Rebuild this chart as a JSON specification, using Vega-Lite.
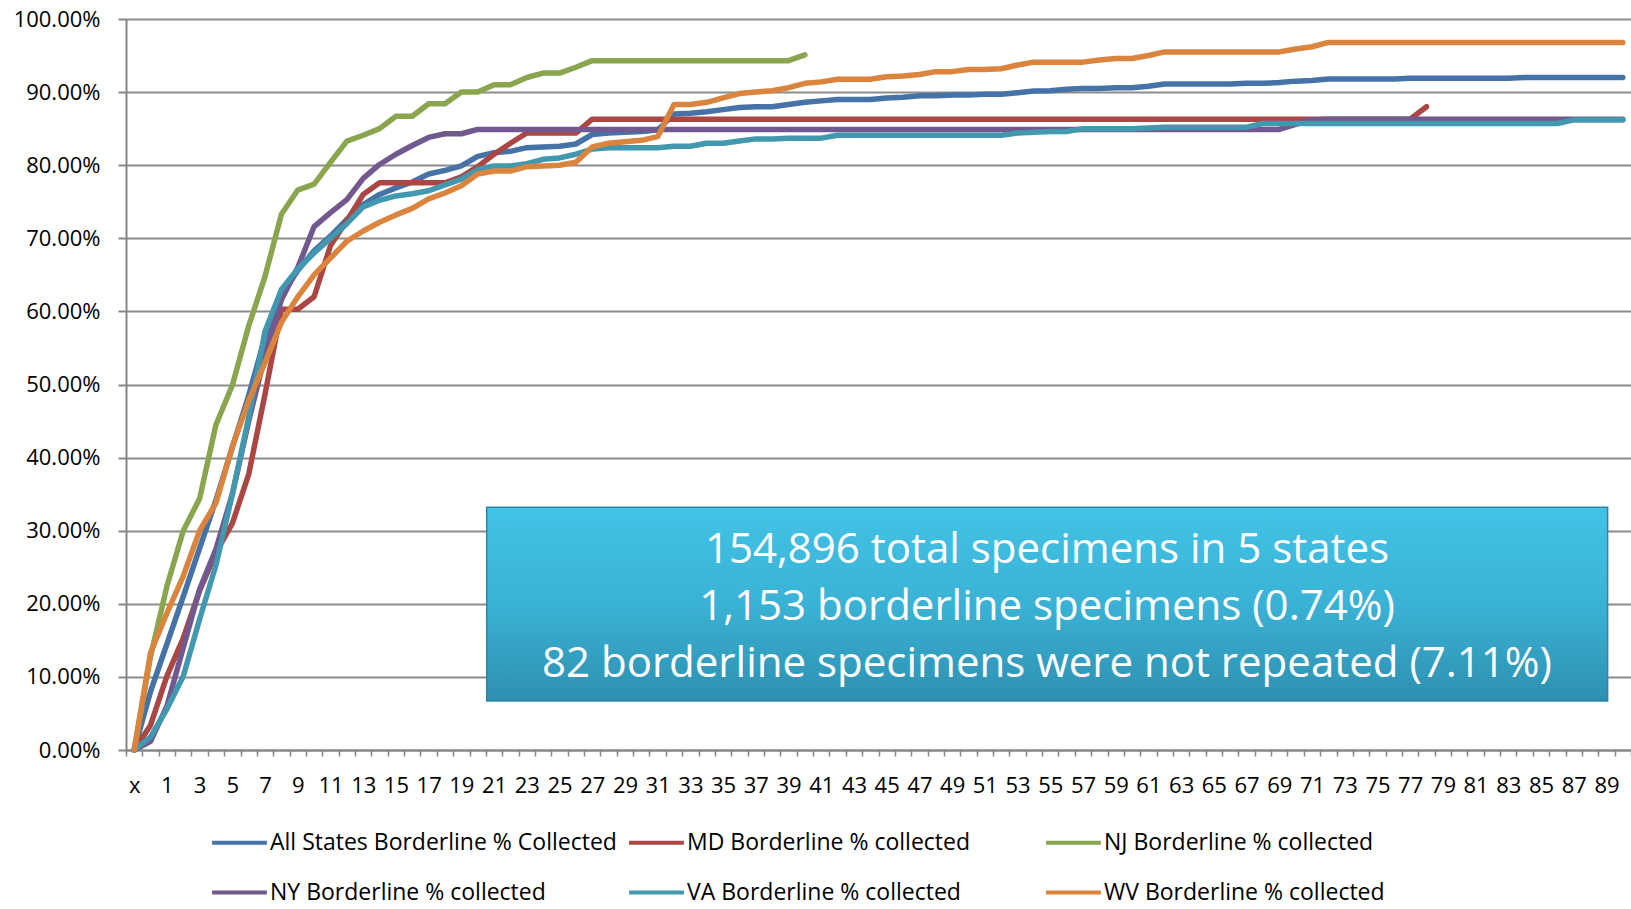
{
  "$schema": "https://vega.github.io/schema/vega-lite/v6.json",
  "width": 1505,
  "height": 731,
  "autosize": {"type": "none"},
  "padding": {"left": 126, "top": 19, "right": 0, "bottom": 159},
  "background": "#ffffff",
  "config": {
    "view": {"stroke": null},
    "font": "Open Sans",
    "axis": {
      "labelFont": "Open Sans",
      "labelFontSize": 22,
      "labelColor": "#000000",
      "domainColor": "#868686",
      "domainWidth": 2,
      "tickColor": "#868686",
      "tickWidth": 2,
      "gridColor": "#8c8c8c",
      "gridWidth": 2
    },
    "axisX": {"labelOverlap": false}
  },
  "layer": [
    {
      "data": {
        "values": [
          {"k": -1, "All": 0, "MD": 0, "NJ": 0, "NY": 0, "VA": 0, "WV": 0},
          {"k": 0, "All": 0.080, "MD": 0.034, "NJ": 0.128, "NY": 0.012, "VA": 0.018, "WV": 0.133},
          {"k": 1, "All": 0.145, "MD": 0.101, "NJ": 0.224, "NY": 0.060, "VA": 0.056, "WV": 0.187},
          {"k": 2, "All": 0.210, "MD": 0.153, "NJ": 0.300, "NY": 0.140, "VA": 0.101, "WV": 0.238},
          {"k": 3, "All": 0.276, "MD": 0.218, "NJ": 0.344, "NY": 0.220, "VA": 0.179, "WV": 0.300},
          {"k": 4, "All": 0.342, "MD": 0.270, "NJ": 0.445, "NY": 0.275, "VA": 0.253, "WV": 0.338},
          {"k": 5, "All": 0.414, "MD": 0.310, "NJ": 0.499, "NY": 0.350, "VA": 0.350, "WV": 0.415},
          {"k": 6, "All": 0.485, "MD": 0.377, "NJ": 0.580, "NY": 0.450, "VA": 0.455, "WV": 0.478},
          {"k": 7, "All": 0.565, "MD": 0.487, "NJ": 0.648, "NY": 0.540, "VA": 0.573, "WV": 0.530},
          {"k": 8, "All": 0.622, "MD": 0.603, "NJ": 0.733, "NY": 0.616, "VA": 0.630, "WV": 0.585},
          {"k": 9, "All": 0.656, "MD": 0.603, "NJ": 0.766, "NY": 0.660, "VA": 0.658, "WV": 0.620},
          {"k": 10, "All": 0.683, "MD": 0.620, "NJ": 0.774, "NY": 0.716, "VA": 0.680, "WV": 0.650},
          {"k": 11, "All": 0.703, "MD": 0.690, "NJ": 0.804, "NY": 0.735, "VA": 0.700, "WV": 0.673},
          {"k": 12, "All": 0.726, "MD": 0.724, "NJ": 0.833, "NY": 0.753, "VA": 0.720, "WV": 0.696},
          {"k": 13, "All": 0.746, "MD": 0.760, "NJ": 0.841, "NY": 0.782, "VA": 0.743, "WV": 0.710},
          {"k": 14, "All": 0.760, "MD": 0.776, "NJ": 0.850, "NY": 0.801, "VA": 0.752, "WV": 0.722},
          {"k": 15, "All": 0.769, "MD": 0.776, "NJ": 0.867, "NY": 0.815, "VA": 0.758, "WV": 0.732},
          {"k": 16, "All": 0.777, "MD": 0.776, "NJ": 0.867, "NY": 0.827, "VA": 0.761, "WV": 0.741},
          {"k": 17, "All": 0.788, "MD": 0.776, "NJ": 0.884, "NY": 0.838, "VA": 0.765, "WV": 0.754},
          {"k": 18, "All": 0.793, "MD": 0.776, "NJ": 0.884, "NY": 0.843, "VA": 0.773, "WV": 0.762},
          {"k": 19, "All": 0.799, "MD": 0.784, "NJ": 0.900, "NY": 0.843, "VA": 0.781, "WV": 0.772},
          {"k": 20, "All": 0.812, "MD": 0.798, "NJ": 0.900, "NY": 0.849, "VA": 0.794, "WV": 0.788},
          {"k": 21, "All": 0.817, "MD": 0.815, "NJ": 0.910, "NY": 0.849, "VA": 0.799, "WV": 0.792},
          {"k": 22, "All": 0.819, "MD": 0.830, "NJ": 0.910, "NY": 0.849, "VA": 0.799, "WV": 0.792},
          {"k": 23, "All": 0.824, "MD": 0.844, "NJ": 0.920, "NY": 0.849, "VA": 0.802, "WV": 0.798},
          {"k": 24, "All": 0.825, "MD": 0.844, "NJ": 0.926, "NY": 0.849, "VA": 0.808, "WV": 0.799},
          {"k": 25, "All": 0.826, "MD": 0.844, "NJ": 0.926, "NY": 0.849, "VA": 0.810, "WV": 0.800},
          {"k": 26, "All": 0.829, "MD": 0.844, "NJ": 0.934, "NY": 0.849, "VA": 0.815, "WV": 0.804},
          {"k": 27, "All": 0.842, "MD": 0.863, "NJ": 0.943, "NY": 0.849, "VA": 0.822, "WV": 0.825},
          {"k": 28, "All": 0.844, "MD": 0.863, "NJ": 0.943, "NY": 0.849, "VA": 0.824, "WV": 0.830},
          {"k": 29, "All": 0.845, "MD": 0.863, "NJ": 0.943, "NY": 0.849, "VA": 0.824, "WV": 0.832},
          {"k": 30, "All": 0.846, "MD": 0.863, "NJ": 0.943, "NY": 0.849, "VA": 0.824, "WV": 0.834},
          {"k": 31, "All": 0.848, "MD": 0.863, "NJ": 0.943, "NY": 0.849, "VA": 0.824, "WV": 0.839},
          {"k": 32, "All": 0.870, "MD": 0.863, "NJ": 0.943, "NY": 0.849, "VA": 0.826, "WV": 0.883},
          {"k": 33, "All": 0.871, "MD": 0.863, "NJ": 0.943, "NY": 0.849, "VA": 0.826, "WV": 0.883},
          {"k": 34, "All": 0.873, "MD": 0.863, "NJ": 0.943, "NY": 0.849, "VA": 0.830, "WV": 0.886},
          {"k": 35, "All": 0.876, "MD": 0.863, "NJ": 0.943, "NY": 0.849, "VA": 0.830, "WV": 0.892},
          {"k": 36, "All": 0.879, "MD": 0.863, "NJ": 0.943, "NY": 0.849, "VA": 0.833, "WV": 0.898},
          {"k": 37, "All": 0.880, "MD": 0.863, "NJ": 0.943, "NY": 0.849, "VA": 0.836, "WV": 0.900},
          {"k": 38, "All": 0.880, "MD": 0.863, "NJ": 0.943, "NY": 0.849, "VA": 0.836, "WV": 0.902},
          {"k": 39, "All": 0.883, "MD": 0.863, "NJ": 0.943, "NY": 0.849, "VA": 0.837, "WV": 0.906},
          {"k": 40, "All": 0.886, "MD": 0.863, "NJ": 0.951, "NY": 0.849, "VA": 0.837, "WV": 0.912},
          {"k": 41, "All": 0.888, "MD": 0.863, "NY": 0.849, "VA": 0.837, "WV": 0.914},
          {"k": 42, "All": 0.890, "MD": 0.863, "NY": 0.849, "VA": 0.841, "WV": 0.9175},
          {"k": 43, "All": 0.890, "MD": 0.863, "NY": 0.849, "VA": 0.841, "WV": 0.9175},
          {"k": 44, "All": 0.890, "MD": 0.863, "NY": 0.849, "VA": 0.841, "WV": 0.9175},
          {"k": 45, "All": 0.892, "MD": 0.863, "NY": 0.849, "VA": 0.841, "WV": 0.921},
          {"k": 46, "All": 0.893, "MD": 0.863, "NY": 0.849, "VA": 0.841, "WV": 0.922},
          {"k": 47, "All": 0.895, "MD": 0.863, "NY": 0.849, "VA": 0.841, "WV": 0.924},
          {"k": 48, "All": 0.895, "MD": 0.863, "NY": 0.849, "VA": 0.841, "WV": 0.928},
          {"k": 49, "All": 0.896, "MD": 0.863, "NY": 0.849, "VA": 0.841, "WV": 0.928},
          {"k": 50, "All": 0.896, "MD": 0.863, "NY": 0.849, "VA": 0.841, "WV": 0.931},
          {"k": 51, "All": 0.897, "MD": 0.863, "NY": 0.849, "VA": 0.841, "WV": 0.931},
          {"k": 52, "All": 0.897, "MD": 0.863, "NY": 0.849, "VA": 0.841, "WV": 0.932},
          {"k": 53, "All": 0.899, "MD": 0.863, "NY": 0.849, "VA": 0.844, "WV": 0.937},
          {"k": 54, "All": 0.9015, "MD": 0.863, "NY": 0.849, "VA": 0.845, "WV": 0.941},
          {"k": 55, "All": 0.902, "MD": 0.863, "NY": 0.849, "VA": 0.846, "WV": 0.941},
          {"k": 56, "All": 0.904, "MD": 0.863, "NY": 0.849, "VA": 0.846, "WV": 0.941},
          {"k": 57, "All": 0.905, "MD": 0.863, "NY": 0.849, "VA": 0.850, "WV": 0.941},
          {"k": 58, "All": 0.905, "MD": 0.863, "NY": 0.849, "VA": 0.850, "WV": 0.944},
          {"k": 59, "All": 0.906, "MD": 0.863, "NY": 0.849, "VA": 0.850, "WV": 0.946},
          {"k": 60, "All": 0.906, "MD": 0.863, "NY": 0.849, "VA": 0.850, "WV": 0.946},
          {"k": 61, "All": 0.908, "MD": 0.863, "NY": 0.849, "VA": 0.851, "WV": 0.950},
          {"k": 62, "All": 0.911, "MD": 0.863, "NY": 0.849, "VA": 0.852, "WV": 0.955},
          {"k": 63, "All": 0.911, "MD": 0.863, "NY": 0.849, "VA": 0.852, "WV": 0.955},
          {"k": 64, "All": 0.911, "MD": 0.863, "NY": 0.849, "VA": 0.852, "WV": 0.955},
          {"k": 65, "All": 0.911, "MD": 0.863, "NY": 0.849, "VA": 0.852, "WV": 0.955},
          {"k": 66, "All": 0.911, "MD": 0.863, "NY": 0.849, "VA": 0.852, "WV": 0.955},
          {"k": 67, "All": 0.912, "MD": 0.863, "NY": 0.849, "VA": 0.852, "WV": 0.955},
          {"k": 68, "All": 0.912, "MD": 0.863, "NY": 0.849, "VA": 0.857, "WV": 0.955},
          {"k": 69, "All": 0.913, "MD": 0.863, "NY": 0.849, "VA": 0.857, "WV": 0.955},
          {"k": 70, "All": 0.915, "MD": 0.863, "NY": 0.856, "VA": 0.857, "WV": 0.959},
          {"k": 71, "All": 0.916, "MD": 0.863, "NY": 0.862, "VA": 0.857, "WV": 0.962},
          {"k": 72, "All": 0.918, "MD": 0.863, "NY": 0.863, "VA": 0.857, "WV": 0.968},
          {"k": 73, "All": 0.918, "MD": 0.863, "NY": 0.863, "VA": 0.857, "WV": 0.968},
          {"k": 74, "All": 0.918, "MD": 0.863, "NY": 0.863, "VA": 0.857, "WV": 0.968},
          {"k": 75, "All": 0.918, "MD": 0.863, "NY": 0.863, "VA": 0.857, "WV": 0.968},
          {"k": 76, "All": 0.918, "MD": 0.863, "NY": 0.863, "VA": 0.857, "WV": 0.968},
          {"k": 77, "All": 0.919, "MD": 0.863, "NY": 0.863, "VA": 0.857, "WV": 0.968},
          {"k": 78, "All": 0.919, "MD": 0.880, "NY": 0.863, "VA": 0.857, "WV": 0.968},
          {"k": 79, "All": 0.919, "NY": 0.863, "VA": 0.857, "WV": 0.968},
          {"k": 80, "All": 0.919, "NY": 0.863, "VA": 0.857, "WV": 0.968},
          {"k": 81, "All": 0.919, "NY": 0.863, "VA": 0.857, "WV": 0.968},
          {"k": 82, "All": 0.919, "NY": 0.863, "VA": 0.857, "WV": 0.968},
          {"k": 83, "All": 0.919, "NY": 0.863, "VA": 0.857, "WV": 0.968},
          {"k": 84, "All": 0.920, "NY": 0.863, "VA": 0.857, "WV": 0.968},
          {"k": 85, "All": 0.920, "NY": 0.863, "VA": 0.857, "WV": 0.968},
          {"k": 86, "All": 0.920, "NY": 0.863, "VA": 0.857, "WV": 0.968},
          {"k": 87, "All": 0.920, "NY": 0.863, "VA": 0.862, "WV": 0.968},
          {"k": 88, "All": 0.920, "NY": 0.863, "VA": 0.862, "WV": 0.968},
          {"k": 89, "All": 0.920, "NY": 0.863, "VA": 0.862, "WV": 0.968},
          {"k": 90, "All": 0.920, "NY": 0.863, "VA": 0.862, "WV": 0.968}
        ]
      },
      "transform": [
        {"fold": ["All", "MD", "NJ", "NY", "VA", "WV"], "as": ["series", "pct"]},
        {"filter": "isValid(datum.pct)"}
      ],
      "mark": {"type": "line", "strokeWidth": 5.5, "strokeCap": "round", "strokeJoin": "round"},
      "encoding": {
        "x": {
          "field": "k",
          "type": "quantitative",
          "scale": {"domain": [-1.5, 90.5], "nice": false, "zero": false},
          "axis": {
            "title": null,
            "grid": false,
            "values": [-1.5, -0.5, 0.5, 1.5, 2.5, 3.5, 4.5, 5.5, 6.5, 7.5, 8.5, 9.5, 10.5, 11.5, 12.5, 13.5, 14.5, 15.5, 16.5, 17.5, 18.5, 19.5, 20.5, 21.5, 22.5, 23.5, 24.5, 25.5, 26.5, 27.5, 28.5, 29.5, 30.5, 31.5, 32.5, 33.5, 34.5, 35.5, 36.5, 37.5, 38.5, 39.5, 40.5, 41.5, 42.5, 43.5, 44.5, 45.5, 46.5, 47.5, 48.5, 49.5, 50.5, 51.5, 52.5, 53.5, 54.5, 55.5, 56.5, 57.5, 58.5, 59.5, 60.5, 61.5, 62.5, 63.5, 64.5, 65.5, 66.5, 67.5, 68.5, 69.5, 70.5, 71.5, 72.5, 73.5, 74.5, 75.5, 76.5, 77.5, 78.5, 79.5, 80.5, 81.5, 82.5, 83.5, 84.5, 85.5, 86.5, 87.5, 88.5, 89.5, 90.5],
            "labelExpr": "datum.value + 0.5 == -1 ? 'x' : (((datum.value + 0.5) % 2 != 0 && datum.value < 90) ? format(datum.value + 0.5, 'd') : '')",
            "labelOffset": 8.2,
            "tickSize": 6,
            "tickWidth": 1.5,
            "labelPadding": 19,
            "labelOverlap": false,
            "labelFlush": false,
            "labelBound": false
          }
        },
        "y": {
          "field": "pct",
          "type": "quantitative",
          "scale": {"domain": [0, 1], "nice": false},
          "axis": {
            "title": null,
            "values": [0, 0.1, 0.2, 0.3, 0.4, 0.5, 0.6, 0.7, 0.8, 0.9, 1],
            "format": ".2%",
            "grid": true,
            "tickSize": 8,
            "labelPadding": 18
          }
        },
        "color": {
          "field": "series",
          "type": "nominal",
          "scale": {
            "domain": ["All", "MD", "NJ", "NY", "VA", "WV"],
            "range": ["#4572A7", "#AA4643", "#89A54E", "#71588F", "#4198AF", "#DB843D"]
          },
          "legend": {
            "title": null,
            "orient": "none",
            "legendX": 84,
            "legendY": 794,
            "direction": "horizontal",
            "columns": 3,
            "gridAlign": "all",
            "symbolType": "stroke",
            "symbolSize": 3000,
            "symbolStrokeWidth": 4,
            "labelFont": "Open Sans",
            "labelFontSize": 23,
            "labelColor": "#000000",
            "labelLimit": 800,
            "labelOffset": 1,
            "columnPadding": 4,
            "rowPadding": 8,
            "padding": 0,
            "labelExpr": "datum.label == 'All' ? 'All States Borderline % Collected' : datum.label + ' Borderline % collected'"
          }
        }
      }
    },
    {
      "data": {"values": [{}]},
      "mark": {
        "type": "rect",
        "fill": {
          "gradient": "linear",
          "x1": 0, "y1": 0, "x2": 0, "y2": 1,
          "stops": [
            {"offset": 0, "color": "#42C3E7"},
            {"offset": 0.5, "color": "#3AB2D5"},
            {"offset": 1, "color": "#2E90B0"}
          ]
        },
        "stroke": "#2C86A4",
        "strokeWidth": 1.5
      },
      "encoding": {
        "x": {
          "datum": 20.55, "type": "quantitative",
          "scale": {"domain": [-1.5, 90.5], "nice": false, "zero": false},
          "axis": {
            "title": null,
            "grid": false,
            "values": [-1.5, -0.5, 0.5, 1.5, 2.5, 3.5, 4.5, 5.5, 6.5, 7.5, 8.5, 9.5, 10.5, 11.5, 12.5, 13.5, 14.5, 15.5, 16.5, 17.5, 18.5, 19.5, 20.5, 21.5, 22.5, 23.5, 24.5, 25.5, 26.5, 27.5, 28.5, 29.5, 30.5, 31.5, 32.5, 33.5, 34.5, 35.5, 36.5, 37.5, 38.5, 39.5, 40.5, 41.5, 42.5, 43.5, 44.5, 45.5, 46.5, 47.5, 48.5, 49.5, 50.5, 51.5, 52.5, 53.5, 54.5, 55.5, 56.5, 57.5, 58.5, 59.5, 60.5, 61.5, 62.5, 63.5, 64.5, 65.5, 66.5, 67.5, 68.5, 69.5, 70.5, 71.5, 72.5, 73.5, 74.5, 75.5, 76.5, 77.5, 78.5, 79.5, 80.5, 81.5, 82.5, 83.5, 84.5, 85.5, 86.5, 87.5, 88.5, 89.5, 90.5],
            "labelExpr": "datum.value + 0.5 == -1 ? 'x' : (((datum.value + 0.5) % 2 != 0 && datum.value < 90) ? format(datum.value + 0.5, 'd') : '')",
            "labelOffset": 8.2,
            "tickSize": 6,
            "tickWidth": 1.5,
            "labelPadding": 19,
            "labelOverlap": false,
            "labelFlush": false,
            "labelBound": false
          }
        },
        "x2": {"datum": 89.07},
        "y": {
          "datum": 0.332, "type": "quantitative",
          "scale": {"domain": [0, 1], "nice": false},
          "axis": {
            "title": null,
            "values": [0, 0.1, 0.2, 0.3, 0.4, 0.5, 0.6, 0.7, 0.8, 0.9, 1],
            "format": ".2%",
            "grid": true,
            "tickSize": 8,
            "labelPadding": 18
          }
        },
        "y2": {"datum": 0.067}
      }
    },
    {
      "data": {"values": [{"t": "154,896 total specimens in 5 states\n1,153 borderline specimens (0.74%)\n82 borderline specimens were not repeated (7.11%)"}]},
      "mark": {
        "type": "text",
        "lineBreak": "\n",
        "align": "center",
        "baseline": "middle",
        "font": "Open Sans",
        "fontSize": 42,
        "lineHeight": 57,
        "color": "#ffffff"
      },
      "encoding": {
        "text": {"field": "t"},
        "x": {
          "datum": 54.8, "type": "quantitative",
          "scale": {"domain": [-1.5, 90.5], "nice": false, "zero": false},
          "axis": {
            "title": null,
            "grid": false,
            "values": [-1.5, -0.5, 0.5, 1.5, 2.5, 3.5, 4.5, 5.5, 6.5, 7.5, 8.5, 9.5, 10.5, 11.5, 12.5, 13.5, 14.5, 15.5, 16.5, 17.5, 18.5, 19.5, 20.5, 21.5, 22.5, 23.5, 24.5, 25.5, 26.5, 27.5, 28.5, 29.5, 30.5, 31.5, 32.5, 33.5, 34.5, 35.5, 36.5, 37.5, 38.5, 39.5, 40.5, 41.5, 42.5, 43.5, 44.5, 45.5, 46.5, 47.5, 48.5, 49.5, 50.5, 51.5, 52.5, 53.5, 54.5, 55.5, 56.5, 57.5, 58.5, 59.5, 60.5, 61.5, 62.5, 63.5, 64.5, 65.5, 66.5, 67.5, 68.5, 69.5, 70.5, 71.5, 72.5, 73.5, 74.5, 75.5, 76.5, 77.5, 78.5, 79.5, 80.5, 81.5, 82.5, 83.5, 84.5, 85.5, 86.5, 87.5, 88.5, 89.5, 90.5],
            "labelExpr": "datum.value + 0.5 == -1 ? 'x' : (((datum.value + 0.5) % 2 != 0 && datum.value < 90) ? format(datum.value + 0.5, 'd') : '')",
            "labelOffset": 8.2,
            "tickSize": 6,
            "tickWidth": 1.5,
            "labelPadding": 19,
            "labelOverlap": false,
            "labelFlush": false,
            "labelBound": false
          }
        },
        "y": {
          "datum": 0.274, "type": "quantitative",
          "scale": {"domain": [0, 1], "nice": false},
          "axis": {
            "title": null,
            "values": [0, 0.1, 0.2, 0.3, 0.4, 0.5, 0.6, 0.7, 0.8, 0.9, 1],
            "format": ".2%",
            "grid": true,
            "tickSize": 8,
            "labelPadding": 18
          }
        }
      }
    }
  ]
}
